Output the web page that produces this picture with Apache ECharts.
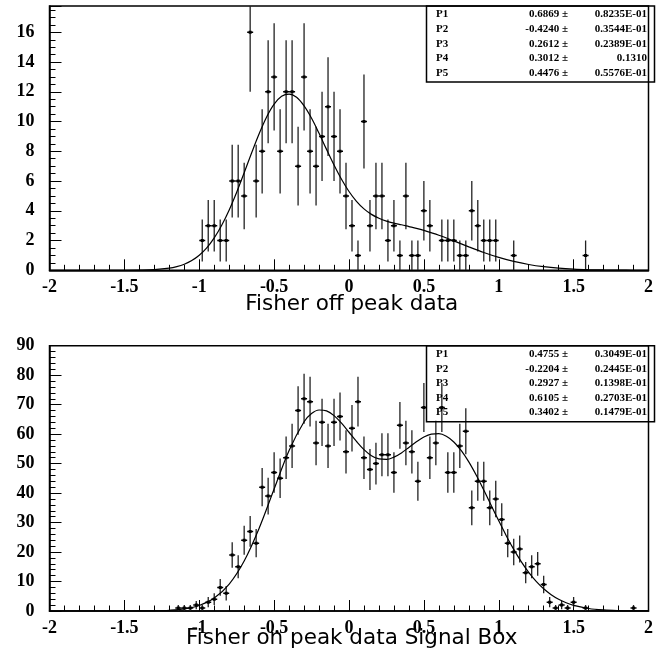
<!DOCTYPE html>
<html>
<head>
<meta charset="utf-8">
<script src="https://cdn.jsdelivr.net/npm/echarts@6/dist/echarts.min.js"></script>
<style>
html,body{margin:0;padding:0;background:#fff;}
#c{width:656px;height:658px;}
</style>
</head>
<body>
<div id="c"></div>
<script>
// ---------- data ----------
const topX = [-0.98,-0.94,-0.90,-0.86,-0.82,-0.78,-0.74,-0.70,-0.66,-0.62,-0.58,-0.54,-0.50,-0.46,-0.42,-0.38,-0.34,-0.30,-0.26,-0.22,-0.18,-0.14,
  -0.10,-0.06,-0.02,0.02,0.06,0.10,0.14,0.18,0.22,0.26,0.30,0.34,0.38,0.42,0.46,0.50,0.54,
  0.62,0.66,0.70,0.74,0.78,0.82,0.86,0.90,0.94,0.98,1.10,1.58];
const topY = [2,3,3,2,2,6,6,5,16,6,8,12,13,8,12,12,7,13,8,7,9,11,
  9,8,5,3,1,10,3,5,5,2,3,1,5,1,1,4,3,
  2,2,2,1,1,4,3,2,2,2,1,1];

const botX = [-1.14,-1.10,-1.06,-1.02,-0.98,-0.94,-0.90,-0.86,-0.82,-0.78,-0.74,-0.70,-0.66,-0.62,-0.58,-0.54,-0.50,-0.46,-0.42,-0.38,
  -0.34,-0.30,-0.26,-0.22,-0.18,-0.14,-0.10,-0.06,-0.02,0.02,0.06,0.10,0.14,0.18,0.22,0.26,0.30,0.34,0.38,0.42,
  0.46,0.50,0.54,0.58,0.62,0.66,0.70,0.74,0.78,0.82,0.86,0.90,0.94,0.98,1.02,1.06,1.10,1.14,1.18,1.22,
  1.26,1.30,1.34,1.38,1.42,1.46,1.50,1.58,1.90];
const botY = [1,1,1,2,1,3,4,8,6,19,15,24,27,23,42,39,47,45,52,56,
  68,72,71,57,64,56,64,66,54,62,71,52,48,50,53,53,47,63,57,54,
  44,69,52,57,69,47,47,56,61,35,44,44,35,38,31,23,20,21,13,15,
  16,9,3,1,2,1,3,1,1];

const fitTopX = [-2,-1.6,-1.5,-1.4,-1.3,-1.2,-1.15,-1.1,-1.05,-1.0,-0.95,-0.9,-0.85,-0.8,-0.75,-0.7,-0.65,-0.6,-0.55,-0.5,-0.45,-0.4,-0.35,-0.3,-0.25,-0.2,-0.15,-0.1,-0.05,0,
  0.05,0.1,0.15,0.2,0.25,0.3,0.35,0.4,0.45,0.5,0.6,0.7,0.8,0.9,1.0,1.1,1.2,1.3,1.4,1.5,1.6,1.7,1.8,1.9,2.0];
const fitTopY = [0,0.001,0.002,0.012,0.045,0.144,0.247,0.41,0.656,1.013,1.51,2.18,3.03,4.06,5.25,6.56,7.90,9.18,10.31,11.17,11.70,11.85,11.63,11.05,10.22,9.21,8.13,7.08,6.12,5.30,
  4.64,4.13,3.76,3.50,3.31,3.17,3.06,2.94,2.82,2.68,2.355,1.975,1.578,1.20,0.868,0.597,0.391,0.244,0.144,0.081,0.044,0.022,0.011,0.005,0.002];

const fitBotX = [-2,-1.6,-1.5,-1.4,-1.3,-1.2,-1.1,-1.0,-0.9,-0.8,-0.7,-0.6,-0.5,-0.4,-0.3,-0.25,-0.2,-0.15,-0.1,-0.05,0,
  0.05,0.1,0.15,0.2,0.25,0.3,0.35,0.4,0.45,0.5,0.55,0.6,0.65,0.7,0.75,0.8,0.85,0.9,0.95,1.0,
  1.05,1.1,1.15,1.2,1.25,1.3,1.35,1.4,1.45,1.5,1.6,1.7,1.8,1.9,2.0];
const fitBotY = [0,0.001,0.004,0.019,0.072,0.240,0.710,1.871,4.384,9.147,16.98,28.10,41.40,54.47,64.18,66.97,68.19,67.89,66.28,63.72,60.64,
  57.52,54.75,52.70,51.58,51.42,52.19,53.64,55.50,57.40,59.01,59.99,60.14,59.28,57.35,54.41,50.58,46.04,41.04,35.81,30.59,
  25.56,20.91,16.75,13.12,10.06,7.55,5.55,3.99,2.80,1.93,0.857,0.349,0.131,0.045,0.014];

const xTickLabels = ['-2','-1.5','-1','-0.5','0','0.5','1','1.5','2'];

const statNames = ['P1','P2','P3','P4','P5'];
const statTopVals = ['0.6869','-0.4240','0.2612','0.3012','0.4476'];
const statTopErrs = ['0.8235E-01','0.3544E-01','0.2389E-01','0.1310','0.5576E-01'];
const statBotVals = ['0.4755','-0.2204','0.2927','0.6105','0.3402'];
const statBotErrs = ['0.3049E-01','0.2445E-01','0.1398E-01','0.2703E-01','0.1479E-01'];

const titleTop = 'Fisher off peak data';
const titleBot = 'Fisher on peak data Signal Box';

const topMax = 17.77, botMax = 90;

// ---------- helpers ----------
const LBL = {fontFamily:'Liberation Serif', fontWeight:'bold', fontSize:18, color:'#000'};
function xAxisFor(gi){
  return {
    gridIndex: gi, type:'value', min:-2, max:2, interval:0.5,
    axisLine:{show:true, onZero:false, lineStyle:{color:'#000', width:1.5}},
    axisTick:{show:true, inside:true, length:11, lineStyle:{color:'#000', width:1}},
    minorTick:{show:true, splitNumber:5, length:5.5, lineStyle:{color:'#000', width:1}},
    splitLine:{show:false},
    axisLabel:Object.assign({margin:8, formatter:function(v){
      const i = Math.round((v+2)/0.5); return xTickLabels[i] !== undefined && Math.abs((v+2)/0.5 - i) < 1e-6 ? xTickLabels[i] : '';
    }}, LBL)
  };
}
function pairs(xs, ys){ return xs.map((x,i)=>[x, ys[i]]); }
function errRender(ymax){
  return function(params, api){
    const x = api.value(0), y = api.value(1);
    const e = Math.sqrt(y);
    const hi = Math.min(y+e, ymax), lo = Math.max(y-e, 0);
    const pT = api.coord([x, hi]), pB = api.coord([x, lo]);
    const c = api.coord([x, y]);
    const pL = api.coord([x-0.02, y]), pR = api.coord([x+0.02, y]);
    const kids = [
      {type:'line', shape:{x1:c[0], y1:pT[1], x2:c[0], y2:pB[1]}, style:{stroke:'#222', lineWidth:1.3}},
      {type:'line', shape:{x1:pL[0], y1:c[1], x2:pR[0], y2:c[1]}, style:{stroke:'#000', lineWidth:1.5}},
      {type:'rect', shape:{x:c[0]-1.5, y:c[1]-1.5, width:3, height:3}, style:{fill:'#000'}}
    ];
    return {type:'group', children:kids};
  };
}
function statBox(top, vals, errs){
  const els = [];
  els.push({type:'rect', shape:{x:426.5, y:top, width:228, height:76}, style:{fill:'none', stroke:'#000', lineWidth:1.5}, z:100});
  for(let i=0;i<5;i++){
    const y = top + 8.5 + i*14.6;
    const f = 'bold 11px "Liberation Serif"';
    els.push({type:'text', style:{text:statNames[i], x:436, y:y, font:f, fill:'#000', textAlign:'left', textVerticalAlign:'middle'}, z:101});
    els.push({type:'text', style:{text:vals[i] + ' \u00b1', x:568, y:y, font:f, fill:'#000', textAlign:'right', textVerticalAlign:'middle'}, z:101});
    els.push({type:'text', style:{text:errs[i], x:647, y:y, font:f, fill:'#000', textAlign:'right', textVerticalAlign:'middle'}, z:101});
  }
  return els;
}
function yAxisMain(gi, max, interval, minorSplit){
  const ax = {gridIndex:gi, type:'value', min:0, max:max, interval:interval, position:'left',
    axisLine:{show:true, onZero:false, lineStyle:{color:'#000', width:1.5}},
    axisTick:{show:true, inside:true, length:12, lineStyle:{color:'#000', width:1}},
    splitLine:{show:false},
    axisLabel:Object.assign({margin:15, formatter:function(v){
      return Math.abs(v/interval - Math.round(v/interval))<1e-6 ? String(v) : '';
    }}, LBL)};
  if(minorSplit) ax.minorTick = {show:true, splitNumber:minorSplit, length:6, lineStyle:{color:'#000', width:1}};
  return ax;
}

const chart = echarts.init(document.getElementById('c'), null, {renderer:'canvas'});
const option = {
  animation:false,
  backgroundColor:'#fff',
  grid:[
    {left:49.5, top:6, width:604.5, height:264.3, show:true, borderColor:'#000', borderWidth:1.5, backgroundColor:'transparent'},
    {left:49.5, top:345.7, width:604.5, height:265.3, show:true, borderColor:'#000', borderWidth:1.5, backgroundColor:'transparent'}
  ],
  xAxis:[xAxisFor(0), xAxisFor(1)],
  yAxis:[
    yAxisMain(0, topMax, 2, 0),
    {gridIndex:0, type:'value', min:0, max:topMax, interval:0.5, position:'left',
      axisLine:{show:false, onZero:false}, axisTick:{show:true, inside:true, length:6, lineStyle:{color:'#000', width:1}},
      splitLine:{show:false}, axisLabel:{show:false}},
    yAxisMain(1, botMax, 10, 5)
  ],
  series:[
    {type:'custom', xAxisIndex:0, yAxisIndex:0, data:pairs(topX, topY), renderItem:errRender(topMax), clip:true, z:3},
    {type:'line', xAxisIndex:0, yAxisIndex:0, data:pairs(fitTopX, fitTopY), smooth:0.35, showSymbol:false, symbol:'none',
      lineStyle:{color:'#000', width:1.2}, clip:true, z:4},
    {type:'custom', xAxisIndex:1, yAxisIndex:2, data:pairs(botX, botY), renderItem:errRender(botMax), clip:true, z:3},
    {type:'line', xAxisIndex:1, yAxisIndex:2, data:pairs(fitBotX, fitBotY), smooth:0.35, showSymbol:false, symbol:'none',
      lineStyle:{color:'#000', width:1.2}, clip:true, z:4}
  ],
  graphic:[].concat(
    statBox(6, statTopVals, statTopErrs),
    statBox(345.7, statBotVals, statBotErrs),
    [
      {type:'text', style:{text:titleTop, x:351.7, y:304, font:'21.5px "DejaVu Sans"', fill:'#000', textAlign:'center', textVerticalAlign:'middle'}, z:50},
      {type:'text', style:{text:titleBot, x:351.7, y:638, font:'21.5px "DejaVu Sans"', fill:'#000', textAlign:'center', textVerticalAlign:'middle'}, z:50}
    ]
  )
};
chart.setOption(option);
</script>
</body>
</html>
